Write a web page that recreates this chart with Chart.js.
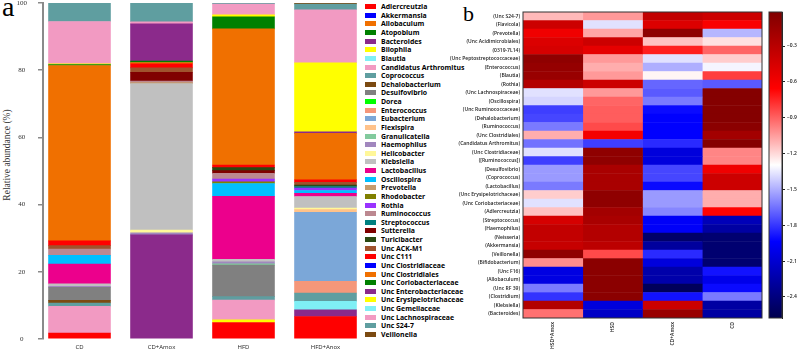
<!DOCTYPE html>
<html>
<head>
<meta charset="utf-8">
<script src="https://cdn.jsdelivr.net/npm/chart.js@4.4.1/dist/chart.umd.min.js"></script>
<style>
  body { margin: 0; background: #fff; width: 798px; height: 354px; overflow: hidden; position: relative; }
  .painel { position: absolute; top: 0; height: 354px; }
  .letra { position: absolute; font-family: 'Liberation Serif', serif; color: #000; line-height: 1; }
  #tituloY { position: absolute; left: -63px; top: 149px; width: 140px; text-align: center;
    font: 9.5px 'Liberation Serif', serif; color: #333; transform: rotate(-90deg); line-height: 12px; }
  #legenda { position: absolute; left: 365px; top: 2.4px; }
  .item { height: 8.63px; display: flex; align-items: center; white-space: nowrap;
    font: bold 6.9px 'Open Sans', sans-serif; color: #000; }
  .caixa { width: 11px; height: 5px; margin-right: 5px; flex: none; }
</style>
</head>
<body>

<div class="letra" style="left:2px; top:-7px; font-size:28px">a</div>
<div class="letra" style="left:463px; top:3px; font-size:22px">b</div>
<div id="tituloY">Relative abundance (%)</div>

<div class="painel" style="left:0; width:365px"><canvas id="graficoA"></canvas></div>
<div id="legenda"></div>
<div class="painel" style="left:420px; width:350px"><canvas id="graficoB"></canvas></div>
<div class="painel" style="left:760px; width:38px"><canvas id="barraCores"></canvas></div>

<script>
// dados painel a
const grupos = ['CD', 'CD+Amox', 'HFD', 'HFD+Anox']

const generos = ['Adlercreutzia', 'Akkermansia', 'Allobaculum', 'Atopobium', 'Bacteroides', 'Bilophila',
  'Blautia', 'Candidatus Arthromitus', 'Coprococcus', 'Dehalobacterium', 'Desulfovibrio', 'Dorea',
  'Enterococcus', 'Eubacterium', 'Flexispira', 'Granulicatella', 'Haemophilus', 'Helicobacter',
  'Klebsiella', 'Lactobacillus', 'Oscillospira', 'Prevotella', 'Rhodobacter', 'Rothia', 'Ruminococcus',
  'Streptococcus', 'Sutterella', 'Turicibacter', 'Unc  ACK-M1', 'Unc C111', 'Unc Clostridiaceae',
  'Unc Clostridiales', 'Unc Coriobacteriaceae', 'Unc Enterobacteriaceae', 'Unc Erysipelotrichaceae',
  'Unc Gemellaceae', 'Unc Lachnospiraceae', 'Unc S24-7', 'Veillonella']

const cores = ['#FF0000', '#0000FF', '#F07000', '#008000', '#8B2A8B', '#FFFF00', '#7FEFF5', '#F29AC2',
  '#5F9EA0', '#7B4A12', '#808080', '#00FF00', '#F5977A', '#7BA7D8', '#FFC28A', '#82CA9D', '#A187BE',
  '#FFF799', '#C0C0C0', '#EC008C', '#00BFFF', '#C69C6D', '#808000', '#9933FF', '#BC8890', '#008080',
  '#800000', '#2B4A14', '#A0522D', '#FF0000', '#0000FF', '#F07000', '#008000', '#8B2A8B', '#FFFF00',
  '#7FEFF5', '#F29AC2', '#5F9EA0', '#7B4A12']

const cd = [1.8, 0, 0, 0, 0, 0, 0, 7.9, 1.0, 0.8, 3.9, 0, 0, 0, 0, 0, 0.3, 0, 0.7, 5.9, 2.6, 0, 0, 0, 1.9,
  0, 0, 0, 1.0, 1.4, 0, 52.2, 0.3, 0, 0.2, 0, 12.6, 5.5, 0]
const cdAmox = [0, 0, 0, 0, 31.0, 0, 0, 0, 0, 0, 0, 0, 0, 0, 0, 0, 0.6, 0.8, 43.6, 0, 0, 0.3, 0, 0, 0.5,
  0, 2.6, 0, 1.3, 1.2, 0, 0.4, 0.4, 11.1, 0, 0, 0.6, 5.6, 0]
const hfd = [4.9, 0, 0, 0, 0, 0.8, 0, 5.9, 1.0, 0, 9.4, 0, 0, 0, 0, 0.4, 0.6, 0, 0.7, 18.8, 3.8, 0, 0.5, 0.8,
  1.7, 0, 0.8, 0.9, 0, 0.8, 0, 40.5, 3.6, 0, 0.6, 0, 3.2, 0.3, 0]
const hfdAnox = [6.7, 0, 0, 0, 2.0, 0, 2.5, 0, 2.5, 0, 0, 0, 3.5, 20.5, 0.8, 0, 0, 0.5, 3.4, 1.0, 0.8, 0, 0,
  0.7, 0, 0.5, 0, 0.4, 0.8, 0.8, 0, 13.8, 0, 0.5, 20.5, 0, 15.8, 1.7, 0.4]

const ticksY = [0, 20, 40, 60, 80, 100]

// dados painel b
const colunas = ['HSD+Amox', 'HSD', 'CD+Amox', 'CD']

const linhas = ['(Unc S24-7)', '(Flavicola)', '(Prevotella)', '(Unc Acidimicrobiales)', '(0319-7L14)',
  '(Unc Peptostreptococcaceae)', '(Enterococcus)', '(Blautia)', '(Rothia)', '(Unc Lachnospiraceae)',
  '(Oscillospira)', '(Unc Ruminococcaceae)', '(Dehalobacterium)', '(Ruminococcus)', '(Unc Clostridiales)',
  '(Candidatus Arthromitus)', '(Unc Clostridiaceae)', '([Ruminococcus])', '(Desulfovibrio)', '(Coprococcus)',
  '(Lactobacillus)', '(Unc Erysipelotrichaceae)', '(Unc Coriobacteriaceae)', '(Adlercreutzia)',
  '(Streptococcus)', '(Haemophilus)', '(Neisseria)', '(Akkermansia)', '(Veillonella)', '(Bifidobacterium)',
  '(Unc F16)', '(Allobaculum)', '(Unc RF 39)', '(Clostridium)', '(Klebsiella)', '(Bacteroides)']

const calorHsdAmox = [-1.12, -0.40, -0.58, -0.48, -0.45, -0.09, -0.12, -0.14, -0.27, -1.37, -1.40, -1.78,
  -1.76, -1.63, -1.09, -1.65, -1.37, -1.78, -1.55, -1.55, -1.63, -1.17, -1.37, -1.14, -0.45, -0.35, -0.35,
  -0.37, -0.09, -1.01, -2.04, -2.04, -1.63, -1.81, -0.27, -0.94]
const calorHsd = [-1.04, -1.37, -1.07, -0.40, -0.53, -1.04, -1.09, -1.04, -0.40, -1.04, -0.91, -0.89,
  -0.89, -0.84, -0.60, -1.78, -0.09, -0.09, -0.22, -0.22, -0.22, -0.09, -0.09, -0.19, -0.22, -0.27, -0.27,
  -0.32, -0.84, -0.07, -0.07, -0.07, -0.07, -0.07, -2.06, -2.14]
const calorCdAmox = [-0.35, -0.48, -0.09, -1.14, -0.73, -1.37, -1.50, -1.27, -1.68, -1.71, -1.63, -1.91,
  -1.94, -1.94, -1.94, -1.83, -2.06, -2.06, -1.76, -1.76, -1.91, -1.55, -1.55, -1.60, -1.96, -1.96, -2.47,
  -2.29, -1.83, -2.06, -2.24, -2.24, -2.53, -1.89, -0.40, -0.14]
const calorCd = [-0.40, -0.63, -1.48, -1.22, -0.91, -1.17, -1.32, -0.81, -1.71, -0.04, -0.04, -0.04,
  -0.04, -0.07, -0.19, -0.04, -0.99, -0.99, -0.58, -0.40, -0.40, -1.09, -1.09, -0.66, -2.19, -2.27, -2.45,
  -2.45, -2.45, -2.45, -1.89, -2.01, -1.91, -1.63, -2.27, -2.27]

const escalaMin = -2.576
const escalaMax = -0.015
const passoEscala = 0.3


// mapa de cores (azul - branco - vermelho)
const paradas = [[0, 0, 77], [0, 0, 255], [255, 255, 255], [255, 0, 0], [128, 0, 0]]

function seismic(t) {
  t = Math.min(1, Math.max(0, t)) * 4
  const i = Math.min(3, Math.floor(t))
  const f = t - i
  const a = paradas[i], b = paradas[i + 1]
  const c = a.map((v, k) => Math.round(v + (b[k] - v) * f))
  return `rgb(${c[0]}, ${c[1]}, ${c[2]})`
}

function corValor(v) {
  return seismic((v - escalaMin) / (escalaMax - escalaMin))
}

const moldura = {
  id: 'moldura',
  afterDatasetsDraw(chart) {
    const { ctx, chartArea } = chart
    ctx.save()
    ctx.strokeStyle = '#333'
    ctx.lineWidth = 1
    ctx.strokeRect(chartArea.left, chartArea.top, chartArea.width, chartArea.height)
    ctx.restore()
  }
}


// legenda
const legenda = document.getElementById('legenda')
generos.forEach(function (g, i) {
  const item = document.createElement('div')
  item.className = 'item'
  item.innerHTML = `<span class="caixa" style="background:${cores[i]}"></span>${g}`
  legenda.appendChild(item)
})


// Grafico 1 - barras empilhadas
const abundancias = [cd, cdAmox, hfd, hfdAnox]
const passoBarra = 82
const inicioX = -36.5 / passoBarra

new Chart(document.getElementById('graficoA'), {
  type: 'bar',
  data: {
    datasets: generos.map(function (g, i) {
      return {
        label: g,
        data: grupos.map((_, j) => ({ x: j, y: abundancias[j][i] > 0 ? abundancias[j][i] : null })),
        backgroundColor: cores[i],
        borderWidth: 0,
        barThickness: 62,
        inflateAmount: 0.3
      }
    })
  },
  options: {
    animation: false,
    responsive: true,
    maintainAspectRatio: false,
    layout: { padding: { top: 3 } },
    plugins: {
      legend: { display: false },
      tooltip: { enabled: false }
    },
    scales: {
      x: {
        type: 'linear',
        stacked: true,
        offset: false,
        min: inicioX,
        max: inicioX + (365 - 43) / passoBarra,
        grid: { display: false, drawTicks: false },
        border: { display: false },
        afterFit: function (s) { s.height = 15; s.paddingLeft = 0; s.paddingRight = 0 },
        ticks: {
          stepSize: 1,
          includeBounds: false,
          padding: 5,
          color: '#222',
          font: { family: 'Open Sans', size: 6 },
          callback: v => grupos[v]
        }
      },
      y: {
        stacked: true,
        min: ticksY[0],
        max: ticksY[ticksY.length - 1],
        afterFit: function (s) { s.width = 43; s.paddingTop = 0; s.paddingBottom = 0 },
        grid: { drawOnChartArea: false, tickLength: 5, color: '#8a8a8a', lineWidth: 1.5 },
        border: { color: '#8a8a8a', width: 2 },
        ticks: {
          stepSize: ticksY[1] - ticksY[0],
          crossAlign: 'center',
          padding: 11,
          color: '#333',
          font: { family: 'Liberation Serif', size: 7 }
        }
      }
    }
  }
})


// Grafico 2 - mapa de calor
const calor = [calorHsdAmox, calorHsd, calorCdAmox, calorCd]

new Chart(document.getElementById('graficoB'), {
  type: 'bar',
  data: {
    labels: linhas,
    datasets: colunas.map(function (nome, j) {
      return {
        label: nome,
        data: linhas.map(() => 1),
        backgroundColor: calor[j].map(corValor),
        borderWidth: 0,
        barPercentage: 1,
        categoryPercentage: 1
      }
    })
  },
  options: {
    indexAxis: 'y',
    animation: false,
    responsive: true,
    maintainAspectRatio: false,
    layout: { padding: { top: 12, right: 8 } },
    plugins: {
      legend: { display: false },
      tooltip: { enabled: false }
    },
    scales: {
      x: {
        type: 'linear',
        stacked: true,
        min: 0,
        max: colunas.length,
        grid: { display: false, drawTicks: false },
        border: { display: false },
        afterBuildTicks: function (s) { s.ticks = colunas.map((c, i) => ({ value: i + 0.5 })) },
        afterFit: function (s) { s.height = 36; s.paddingLeft = 0; s.paddingRight = 0 },
        ticks: {
          minRotation: 90,
          maxRotation: 90,
          padding: 4,
          color: '#222',
          font: { family: 'Open Sans', size: 5, weight: '600' },
          callback: (v, i) => colunas[i]
        }
      },
      y: {
        stacked: true,
        grid: { display: false, drawTicks: false },
        border: { display: false },
        afterFit: function (s) { s.width = 103 },
        ticks: {
          autoSkip: false,
          padding: 3,
          color: '#222',
          font: { family: 'Open Sans', size: 5, weight: '600' }
        }
      }
    }
  },
  plugins: [moldura]
})


// Grafico 3 - barra de cores
new Chart(document.getElementById('barraCores'), {
  type: 'bar',
  data: {
    labels: [''],
    datasets: [{
      data: [[escalaMin, escalaMax]],
      borderWidth: 0,
      barPercentage: 1,
      categoryPercentage: 1,
      backgroundColor: function (c) {
        const area = c.chart.chartArea
        if (!area) return '#fff'
        const g = c.chart.ctx.createLinearGradient(0, area.bottom, 0, area.top)
        paradas.forEach((p, k) => g.addColorStop(k / 4, seismic(k / 4)))
        return g
      }
    }]
  },
  options: {
    animation: false,
    responsive: true,
    maintainAspectRatio: false,
    layout: { padding: { top: 12, bottom: 36, left: 9 } },
    plugins: {
      legend: { display: false },
      tooltip: { enabled: false }
    },
    scales: {
      x: { display: false },
      y: {
        position: 'right',
        min: escalaMin,
        max: escalaMax,
        afterFit: function (s) { s.width = 16; s.paddingTop = 0; s.paddingBottom = 0 },
        grid: { drawOnChartArea: false, tickLength: 3, color: '#222' },
        border: { color: '#222' },
        ticks: {
          stepSize: passoEscala,
          includeBounds: false,
          padding: 2,
          color: '#222',
          font: { family: 'Open Sans', size: 5, weight: '600' },
          callback: v => v.toFixed(1).replace('-', '\u2212')
        }
      }
    }
  },
  plugins: [moldura]
})
</script>
</body>
</html>
